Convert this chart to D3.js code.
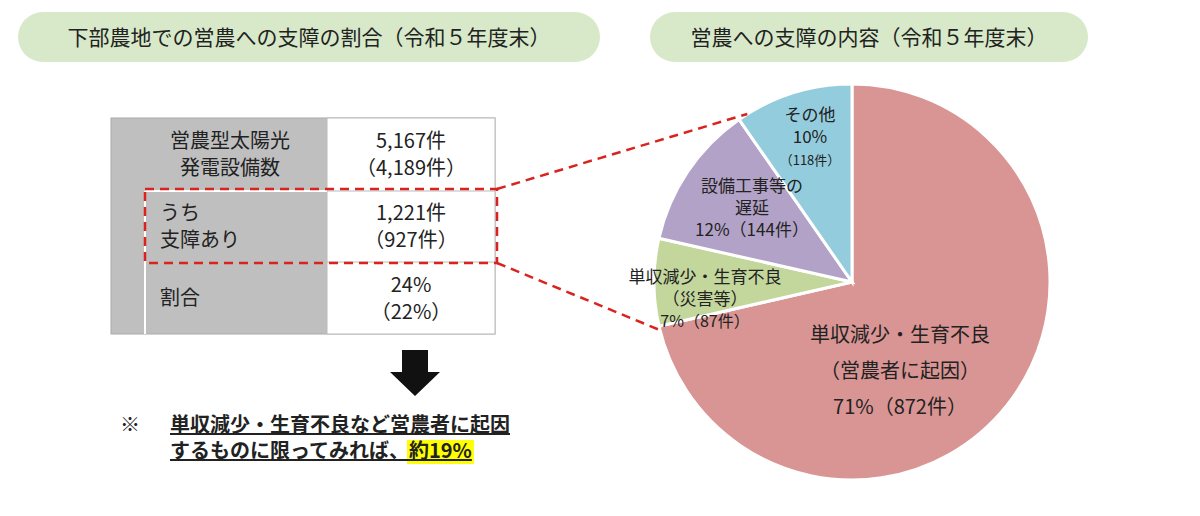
<!DOCTYPE html>
<html><head><meta charset="utf-8">
<script src="https://cdn.jsdelivr.net/npm/d3@7"></script>
<style>body{margin:0;background:#fff}text{font-family:"Noto Sans CJK JP","Noto Sans",sans-serif;fill:#222}</style>
</head><body><svg id="c" width="1200" height="516"></svg>
<script>
(function () {
    "use strict";

    var categories = ["単収減少・生育不良（営農者に起因）", "単収減少・生育不良（災害等）", "設備工事等の遅延", "その他"],
        counts = [872, 87, 144, 118],
        percents = ["71%", "7%", "12%", "10%"],
        colors = ["#d99594", "#c3d69b", "#b3a2c7", "#93cddd"],
        tableLabels = [["営農型太陽光", "発電設備数"], ["うち", "支障あり"], ["割合"]],
        tableValues = [["5,167件", "（4,189件）"], ["1,221件", "（927件）"], ["24%", "（22%）"]];

    var svg = d3.select("#c");

    // title pills
    [[18, 600, "下部農地での営農への支障の割合（令和５年度末）"],
     [650, 1088, "営農への支障の内容（令和５年度末）"]].forEach(function (t) {
        svg.append("rect").attr("x", t[0]).attr("y", 12).attr("width", t[1] - t[0]).attr("height", 50)
            .attr("rx", 25).attr("fill", "#d7e9c8");
        svg.append("text").attr("x", (t[0] + t[1]) / 2).attr("y", 45).attr("text-anchor", "middle")
            .attr("font-size", 21).text(t[2]);
    });

    // table
    var rowY = d3.scaleBand().domain(d3.range(tableLabels.length)).range([118, 334]);
    svg.append("rect").attr("x", 111).attr("y", 118).attr("width", 384).attr("height", 216)
        .attr("fill", "#bfbfbf").attr("stroke", "#aaa");
    svg.append("rect").attr("x", 327).attr("y", 118).attr("width", 168).attr("height", 216).attr("fill", "#fff")
        .attr("stroke", "#bbb");
    svg.append("line").attr("x1", 145).attr("x2", 145).attr("y1", 191).attr("y2", 334)
        .attr("stroke", "#fff").attr("stroke-width", 2);
    svg.append("line").attr("x1", 145).attr("x2", 327).attr("y1", 191).attr("y2", 191)
        .attr("stroke", "#fff").attr("stroke-width", 2);
    svg.append("line").attr("x1", 327).attr("x2", 495).attr("y1", 262).attr("y2", 262).attr("stroke", "#bbb");
    svg.append("line").attr("x1", 327).attr("x2", 495).attr("y1", 191).attr("y2", 191).attr("stroke", "#bbb");
    tableLabels.forEach(function (lines, i) {
        var y0 = rowY(i) + rowY.bandwidth() / 2, anchorMid = i === 0;
        lines.forEach(function (s, j) {
            svg.append("text").attr("x", anchorMid ? 230 : 160)
                .attr("y", y0 + (j - (lines.length - 1) / 2) * 27 + 7)
                .attr("text-anchor", anchorMid ? "middle" : "start").attr("font-size", 20).text(s);
        });
        tableValues[i].forEach(function (s, j) {
            svg.append("text").attr("x", 411).attr("y", y0 + (j - 0.5) * 27 + 7)
                .attr("text-anchor", "middle").attr("font-size", 20).text(s);
        });
    });

    // pie
    var cx = 852, cy = 282, r = 198;
    var pie = d3.pie().sort(null)(counts);
    var arc = d3.arc().innerRadius(0).outerRadius(r);
    var g = svg.append("g").attr("transform", "translate(" + cx + "," + cy + ")");
    g.selectAll("path").data(pie).enter().append("path").attr("d", arc)
        .attr("fill", function (d, i) { return colors[i]; }).attr("stroke", "#fff").attr("stroke-width", 3);

    var dash = {stroke: "#d9231f", "stroke-width": 2.5, "stroke-dasharray": "9,6", fill: "none"};
    function styled(sel) { Object.keys(dash).forEach(function (k) { sel.attr(k, dash[k]); }); return sel; }
    styled(svg.append("rect").attr("x", 145).attr("y", 189).attr("width", 352).attr("height", 74));
    var topPt = d3.pointRadial(pie[3].startAngle + 0.05, r),
        botPt = d3.pointRadial(pie[1].startAngle - 0.02, r);
    styled(svg.append("line").attr("x1", 497).attr("y1", 189).attr("x2", cx + topPt[0]).attr("y2", cy + topPt[1]));
    styled(svg.append("line").attr("x1", 497).attr("y1", 263).attr("x2", cx + botPt[0]).attr("y2", cy + botPt[1]));

    // pie labels
    var labels = [
        {x: 900, y: 342, lines: [["単収減少・生育不良", 20], ["（営農者に起因）", 20], [percents[0] + "（" + counts[0] + "件）", 20]], dy: 36},
        {x: 705, y: 283, lines: [["単収減少・生育不良", 17], ["（災害等）", 17], [percents[1] + "（" + counts[1] + "件）", 16]], dy: 22},
        {x: 752, y: 192, lines: [["設備工事等の", 17], ["遅延", 17], [percents[2] + "（" + counts[2] + "件）", 17]], dy: 22},
        {x: 810, y: 121, lines: [["その他", 17], [percents[3], 17], ["（" + counts[3] + "件）", 13]], dy: 22}
    ];
    labels.forEach(function (l) {
        l.lines.forEach(function (s, j) {
            svg.append("text").attr("x", l.x).attr("y", l.y + j * l.dy).attr("text-anchor", "middle")
                .attr("font-size", s[1]).text(s[0]);
        });
    });

    // arrow
    svg.append("path").attr("d", "M402,350 H428 V372 H440 L415,396 L390,372 H402 Z").attr("fill", "#111");

    // note
    var hl = svg.append("rect").attr("y", 440).attr("height", 24).attr("fill", "#ffff00");
    svg.append("text").attr("x", 120).attr("y", 432).attr("font-size", 20).attr("font-weight", "bold").text("※");
    svg.append("text").attr("x", 170).attr("y", 432).attr("font-size", 20).attr("font-weight", "bold")
        .attr("text-decoration", "underline").text("単収減少・生育不良など営農者に起因");
    var note2 = svg.append("text").attr("x", 170).attr("y", 458).attr("font-size", 20).attr("font-weight", "bold")
        .attr("text-decoration", "underline");
    var lead = note2.append("tspan").text("するものに限ってみれば、");
    var tail = note2.append("tspan").text("約19%");
    var x0 = 170 + lead.node().getComputedTextLength();
    hl.attr("x", x0 - 2).attr("width", tail.node().getComputedTextLength() + 4);
}());
</script></body></html>
